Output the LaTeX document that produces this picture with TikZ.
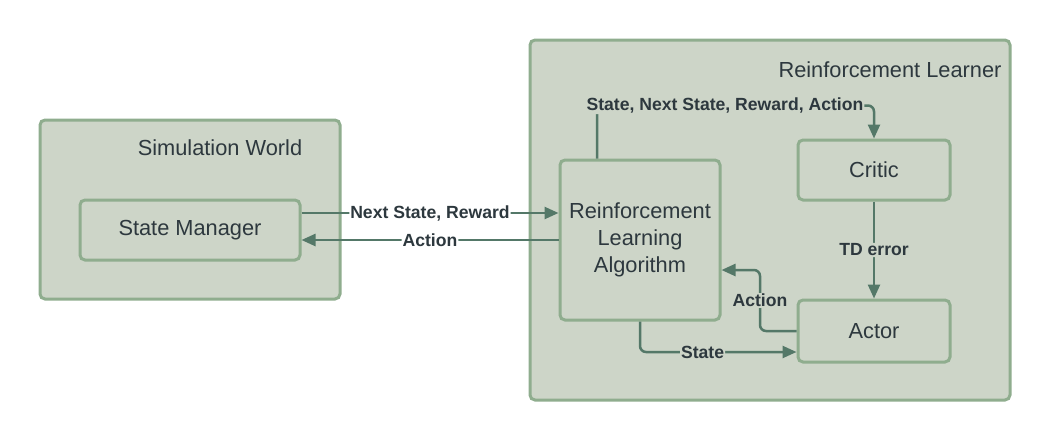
\documentclass[tikz,border=0pt]{standalone}
\usepackage{fontspec}
\setmainfont{Liberation Sans}
\usetikzlibrary{arrows.meta}
\definecolor{boxfill}{RGB}{205,213,200}
\definecolor{boxline}{RGB}{143,173,142}
\definecolor{arrowc}{RGB}{84,120,104}
\definecolor{txt}{RGB}{45,56,62}
\begin{document}
\begin{tikzpicture}[x=1pt,y=-1pt,
  group/.style={draw=boxline, fill=boxfill, line width=3pt, rounded corners=5pt, inner sep=0pt},
  block/.style={draw=boxline, fill=boxfill, line width=3pt, rounded corners=5pt, inner sep=0pt,
    text=txt, font=\fontsize{21.8}{27}\selectfont, align=center},
  conn/.style={draw=arrowc, line width=2.5pt, rounded corners=6pt, -{Triangle[length=14pt,width=12pt]}},
  lbl/.style={font=\bfseries\fontsize{17.6}{19}\selectfont, text=txt, inner sep=1pt, fill=boxfill},
  ttl/.style={font=\fontsize{21.8}{26}\selectfont, text=txt}]
\path[fill=white] (0,0) rectangle (1050,440);
\useasboundingbox (0,0) rectangle (1050,440);
% groups
\node[group, minimum width=300pt, minimum height=179pt] (sim) at (190,209.5) {};
\node[ttl] (simt) at (220,148) {Simulation World};
\node[group, minimum width=480pt, minimum height=360pt] (rl) at (770,220) {};
\node[ttl] (rlt) at (890,70) {Reinforcement Learner};
% blocks
\node[block, minimum width=220pt, minimum height=60pt] (sm) at (190,230) {State Manager};
\node[block, minimum width=160pt, minimum height=160pt] (rla) at (640,240) {Reinforcement\\Learning\\Algorithm};
\node[block, minimum width=152pt, minimum height=60pt] (critic) at (874,170) {Critic};
\node[block, minimum width=152pt, minimum height=62pt] (actor) at (874,331) {Actor};
% connectors
\draw[conn] ([yshift=17pt]sm.east) -- node[lbl, fill=white] {Next State, Reward} ([yshift=27pt]rla.west);
\draw[conn] (rla.west) -- node[lbl, fill=white] {Action} ([yshift=-10pt]sm.east);
\draw[conn] ([xshift=-43pt]rla.north) -- ++(0,-53) -| node[lbl, pos=0.231] {State, Next State, Reward, Action} (critic.north);
\draw[conn] (critic) -- node[lbl] {TD error} (actor);
\draw[conn] (actor.west) -- (760,331) |- node[lbl, pos=0.25] {Action} ([yshift=-30pt]rla.east);
\draw[conn] (rla.south) |- node[lbl, pos=0.70] {State} ([yshift=-21pt]actor.west);
\end{tikzpicture}
\end{document}
